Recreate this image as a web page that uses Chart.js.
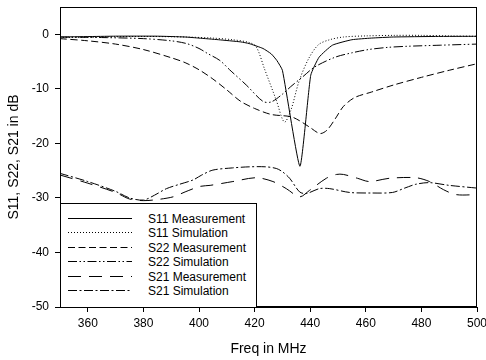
<!DOCTYPE html>
<html>
<head>
<meta charset="utf-8">
<script src="https://cdn.jsdelivr.net/npm/chart.js@4"></script>
<style>
  html, body { margin: 0; padding: 0; background: #fff; }
  #wrap { position: relative; width: 486px; height: 360px; }
  #legend { position: absolute; left: 60px; top: 203px; }
</style>
</head>
<body>
<div id="wrap">
  <canvas id="chart" width="486" height="360"></canvas>
  <svg id="legend" width="197" height="105"></svg>
</div>
<script>
// --- Data ---
const s11MeasFreq = [350, 370, 385, 395, 400, 407, 415, 418, 423, 426, 428, 430, 436.3, 440.2, 443.2, 448, 455, 462, 470, 485, 500];
const s11MeasDb   = [-0.5, -0.35, -0.35, -0.5, -0.7, -1.0, -1.4, -1.7, -2.6, -3.6, -4.8, -6.6, -24.2, -7.5, -4.2, -2.0, -1.0, -0.7, -0.5, -0.4, -0.37];

const s11SimFreq = [350, 365, 380, 395, 405, 412, 418, 420.6, 423.6, 427.8, 430.7, 433, 436, 439.5, 443, 447, 452, 460, 470, 480, 490, 500];
const s11SimDb   = [-0.6, -0.5, -0.4, -0.5, -0.7, -1.0, -1.5, -2.3, -6.4, -12.1, -16.1, -14.0, -8.6, -4.4, -1.9, -1.0, -0.5, -0.3, -0.2, -0.2, -0.3, -0.37];

const s22MeasFreq = [350, 360, 370, 380, 390, 395, 400, 405, 410, 415, 420, 426, 433, 436, 440, 443.5, 446, 449, 452, 456, 462, 470, 480, 490, 500];
const s22MeasDb   = [-0.8, -1.2, -1.8, -2.8, -4.3, -5.2, -6.5, -8.2, -10.2, -12.3, -13.6, -14.7, -15.1, -15.8, -17.1, -18.2, -17.6, -15.5, -13.2, -11.6, -10.6, -9.3, -7.9, -6.6, -5.4];

const s22SimFreq = [350, 365, 380, 390, 395.5, 400, 403, 407.5, 411, 417, 423, 426, 430.2, 433, 437.3, 441.6, 449, 455, 461, 468, 475, 487, 500];
const s22SimDb   = [-0.5, -0.6, -0.8, -1.2, -1.7, -2.6, -3.5, -4.8, -6.5, -9.3, -12.3, -12.4, -10.9, -9.6, -7.8, -6.0, -4.2, -3.4, -2.8, -2.4, -2.2, -2.0, -1.8];

const s21MeasFreq = [350, 360, 370, 375, 380, 385, 390.7, 395, 400.3, 404, 412.2, 420.6, 426.6, 431.4, 436.2, 439.8, 445.8, 449.4, 452, 457, 461.3, 468.5, 478, 482.9, 488, 492.5, 500];
const s21MeasDb   = [-25.8, -27.3, -29.0, -30.2, -30.5, -30.3, -29.8, -28.9, -27.9, -27.7, -27.0, -26.3, -27.0, -28.3, -29.8, -28.6, -26.4, -25.7, -25.7, -26.4, -27.0, -26.4, -26.3, -27.0, -28.5, -29.4, -29.4];

const s21SimFreq = [350, 360, 370, 375, 380, 384, 388.3, 393, 397.9, 401, 405, 412, 418.2, 424, 427.8, 430, 432.6, 436.2, 438.6, 443.3, 447, 454.2, 462, 469.6, 474, 478, 482.9, 490, 500];
const s21SimDb   = [-25.5, -27.0, -28.8, -30.0, -30.4, -29.5, -28.3, -27.5, -26.7, -25.8, -24.9, -24.5, -24.3, -24.3, -24.6, -25.2, -26.4, -28.9, -29.2, -28.3, -28.3, -29.0, -29.1, -29.0, -28.2, -27.5, -27.2, -27.7, -28.2];

const seriesLabels = ['S11 Measurement', 'S11 Simulation', 'S22 Measurement', 'S22 Simulation', 'S21 Measurement', 'S21 Simulation'];
const yTicks = [-50, -40, -30, -20, -10, 0];
const xTicks = [360, 380, 400, 420, 440, 460, 480, 500];

// --- Helpers ---
const FONT = '"Liberation Sans", Arial, sans-serif';

function toPoints(xs, ys) {
    return xs.map((x, i) => ({ x: x, y: ys[i] }));
}

const dashes = [[], [1, 2], [7, 3.5], [9, 2.5, 1.5, 2.5, 1.5, 2.5], [13, 8], [9, 2.5, 2, 2.5]];
const pairs = [
    [s11MeasFreq, s11MeasDb], [s11SimFreq, s11SimDb], [s22MeasFreq, s22MeasDb],
    [s22SimFreq, s22SimDb], [s21MeasFreq, s21MeasDb], [s21SimFreq, s21SimDb]
];

const datasets = pairs.map((p, i) => ({
    label: seriesLabels[i],
    data: toPoints(p[0], p[1]),
    borderColor: '#000',
    borderWidth: 1,
    borderDash: dashes[i],
    pointRadius: 0,
    fill: false,
    tension: i === 0 ? 0.15 : 0.3
}));

// box round the plot area
const frame = {
    id: 'frame',
    afterDraw(chart) {
        const a = chart.chartArea;
        const ctx = chart.ctx;
        ctx.save();
        ctx.strokeStyle = '#000';
        ctx.lineWidth = 1;
        ctx.setLineDash([]);
        ctx.strokeRect(Math.round(a.left) + 0.5, Math.round(a.top) + 0.5,
            Math.round(a.right - a.left) - 1, Math.round(a.bottom - a.top) - 1);
        ctx.restore();
    }
};

Chart.defaults.font.family = FONT;
Chart.defaults.color = '#000';

const chart = new Chart(document.getElementById('chart'), {
    type: 'line',
    data: { datasets: datasets },
    options: {
        responsive: false,
        animation: false,
        devicePixelRatio: 1,
        layout: { padding: { left: 0, right: 9, top: 7, bottom: 2 } },
        plugins: { legend: { display: false }, tooltip: { enabled: false } },
        scales: {
            x: {
                type: 'linear',
                min: 350,
                max: 500,
                afterBuildTicks: s => { s.ticks = xTicks.map(v => ({ value: v })); },
                afterFit: s => { s.height = 51; s.paddingLeft = 0; s.paddingRight = 0; },
                ticks: { font: { size: 12 }, padding: 4, maxRotation: 0, autoSkip: false },
                grid: { drawOnChartArea: false, tickLength: 5, tickColor: '#000' },
                border: { color: '#000' },
                title: { display: true, text: 'Freq in MHz', font: { size: 14 }, padding: 0 }
            },
            y: {
                min: -50,
                max: 5,
                afterBuildTicks: s => { s.ticks = yTicks.map(v => ({ value: v })); },
                afterFit: s => { s.width = 60; s.paddingTop = 0; s.paddingBottom = 0; },
                ticks: { font: { size: 12 }, padding: 6 },
                grid: { drawOnChartArea: false, tickLength: 5, tickColor: '#000' },
                border: { color: '#000' },
                title: { display: true, text: 'S11, S22, S21 in dB', font: { size: 14 }, padding: { top: 6, bottom: 4 } }
            }
        }
    },
    plugins: [frame]
});

// --- Legend box inside the plot, bottom left ---
function buildLegend() {
    const svg = document.getElementById('legend');
    let html = '<rect x="0.5" y="0.5" width="196" height="104" fill="#fff" stroke="#000" stroke-width="1"/>';
    seriesLabels.forEach((label, i) => {
        const y = Math.round(14.7 + i * 14.5) + 0.5;
        const dash = dashes[i].length ? dashes[i].join(',') : 'none';
        html += `<line x1="8" x2="72" y1="${y}" y2="${y}" stroke="#000" stroke-width="1" stroke-dasharray="${dash}"/>`;
        html += `<text x="88" y="${y + 4}" font-family='${FONT}' font-size="12" fill="#000">${label}</text>`;
    });
    svg.innerHTML = html;
}
buildLegend();
</script>
</body>
</html>
